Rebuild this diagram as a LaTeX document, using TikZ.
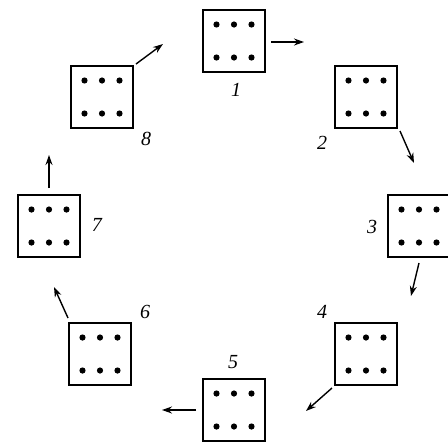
\documentclass[tikz,border=0pt]{standalone}
\usepackage{fontspec}
\setmainfont{Liberation Serif}
\usetikzlibrary{arrows.meta}
\begin{document}
\begin{tikzpicture}[x=1pt,y=1pt,
  cell/.style={draw, line width=2.2pt, minimum width=62pt, minimum height=62pt,
    inner sep=0pt, outer sep=0pt},
  pip/.style={fill, circle, inner sep=0pt, minimum size=6.2pt},
  lbl/.style={font=\fontsize{20}{20}\selectfont\itshape, inner sep=0pt},
  move/.style={line width=1.4pt, -{Stealth[length=10pt,width=7pt]}}]
  \useasboundingbox (0,0) rectangle (448,-445);
  \fill[white] (0,0) rectangle (448,-445);

  % the eight cells around the ring
  \foreach \n/\x/\y in {1/234/-41, 2/366/-97, 3/419/-226, 4/366/-354,
                        5/234/-410, 6/100/-354, 7/49/-226, 8/102/-97} {
    \node[cell] (b\n) at (\x,\y) {};
    \foreach \dx in {-17.5,0,17.5}
      \foreach \dy in {-16.5,16.5}
        \node[pip] at ([shift={(\dx,\dy)}]b\n.center) {};
  }

  % numbers
  \node[lbl] (l1) at (236,-90) {1};
  \node[lbl] (l2) at (322,-143) {2};
  \node[lbl] (l3) at (372,-227) {3};
  \node[lbl] (l4) at (322,-312) {4};
  \node[lbl] (l5) at (233,-362) {5};
  \node[lbl] (l6) at (145,-312) {6};
  \node[lbl] (l7) at (97,-225) {7};
  \node[lbl] (l8) at (146,-139) {8};

  % arrow ends
  \coordinate (s1) at (271,-42);  \coordinate (e1) at (304,-42);
  \coordinate (s2) at (400,-131); \coordinate (e2) at (414,-163);
  \coordinate (s3) at (419,-263); \coordinate (e3) at (411,-296);
  \coordinate (s4) at (332,-388); \coordinate (e4) at (306,-411);
  \coordinate (s5) at (196,-410); \coordinate (e5) at (162,-410);
  \coordinate (s6) at (68,-318);  \coordinate (e6) at (54,-287);
  \coordinate (s7) at (49,-188);  \coordinate (e7) at (49,-155);
  \coordinate (s8) at (136,-64);  \coordinate (e8) at (163,-44);

  \foreach \i in {1,...,8} \draw[move] (s\i) -- (e\i);
\end{tikzpicture}
\end{document}
